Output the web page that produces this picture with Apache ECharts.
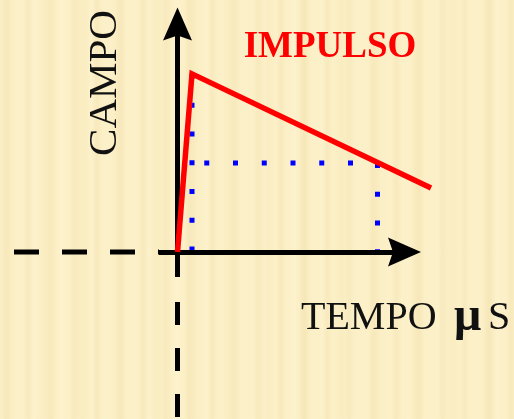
<!DOCTYPE html>
<html>
<head>
<meta charset="utf-8">
<script src="https://cdn.jsdelivr.net/npm/echarts@6/dist/echarts.min.js"></script>
<style>
  html, body { margin: 0; padding: 0; }
  body {
    width: 514px; height: 419px; overflow: hidden;
    background-color: #fcf0c8;
    background-image:
      repeating-linear-gradient(90deg, rgba(228,200,130,0) 0px, rgba(228,200,130,0.16) 5px, rgba(228,200,130,0) 11px, rgba(228,200,130,0) 23px),
      repeating-linear-gradient(90deg, rgba(236,214,150,0) 0px, rgba(236,214,150,0.14) 9px, rgba(236,214,150,0) 17px, rgba(236,214,150,0) 37px),
      repeating-linear-gradient(90deg, rgba(255,248,220,0) 0px, rgba(255,248,220,0.22) 4px, rgba(255,248,220,0) 8px, rgba(255,248,220,0) 29px);
  }
  #chart { width: 514px; height: 419px; }
</style>
</head>
<body>
<div id="chart"></div>
<script>
// Impulse waveform: field (CAMPO) against time (μs)
const pulse = [[0, 0], [1.45, 100], [25.35, 36]];      // rise to peak, then decay
const peakGuide = [[1.45, 100], [1.45, 0]];             // drop from the peak
const halfGuide = [[20, 50], [1.45, 50]];               // half-value level
const halfDrop = [[20, 50], [20, 0]];                   // half-value time

// Axis segments (time axis along field = 0, field axis along time = 0)
const xAxisSolid = [[-1.85, 0], [22.7, 0]];
const yAxisSolid = [[0, -14], [0, 128]];
const xAxisDashed = [[-16.35, 0], [-1.85, 0]];
const yAxisDashed = [[0, -28.03], [0, -93.7]];

// Visible window of the plane
const xRange = [-17.75, 33.65];
const yRange = [-93.7, 141.47];

const BLACK = '#000000';
const RED = '#ff0000';
const BLUE = '#0000ff';
const ARROW = 'path://M14.5,0 L29,33 L14.5,28 L0,33 Z';

const chart = echarts.init(document.getElementById('chart'), null, { renderer: 'canvas' });

function guide(data, offset) {
  return {
    type: 'line', data: data, symbol: 'none', silent: true, z: 4,
    lineStyle: { color: BLUE, width: 5, type: [5, 23.75], dashOffset: offset || 0, cap: 'butt' }
  };
}
function dashedAxis(data, dash) {
  return {
    type: 'line', data: data, symbol: 'none', silent: true, z: 2,
    lineStyle: { color: BLACK, width: 5, type: dash, cap: 'butt' }
  };
}
function solidAxis(seg) {
  return {
    type: 'line', data: [], symbol: 'none', silent: true, z: 3,
    markLine: {
      silent: true, animation: false,
      symbol: ['none', ARROW], symbolSize: [29, 33],
      label: { show: false },
      lineStyle: { color: BLACK, width: 5, type: 'solid', cap: 'butt' },
      emphasis: { disabled: true },
      data: [[{ coord: seg[0] }, { coord: seg[1] }]]
    }
  };
}

chart.setOption({
  animation: false,
  backgroundColor: 'transparent',
  grid: { left: 0, top: 0, right: 0, bottom: 0 },
  xAxis: {
    type: 'value', min: xRange[0], max: xRange[1], show: false,
    axisLine: { show: false }, axisTick: { show: false }, axisLabel: { show: false }, splitLine: { show: false }
  },
  yAxis: {
    type: 'value', min: yRange[0], max: yRange[1], show: false,
    axisLine: { show: false }, axisTick: { show: false }, axisLabel: { show: false }, splitLine: { show: false }
  },
  series: [
    dashedAxis(xAxisDashed, [25, 23]),
    dashedAxis(yAxisDashed, [23, 23]),
    solidAxis(xAxisSolid),
    solidAxis(yAxisSolid),
    guide(peakGuide),
    guide(halfGuide, 4.25),
    guide(halfDrop),
    {
      type: 'line', data: pulse, symbol: 'none', silent: true, z: 5,
      lineStyle: { color: RED, width: 5.5, join: 'miter', cap: 'butt' }
    }
  ],
  graphic: [
    {
      type: 'text', x: 330, y: 47, silent: true,
      style: { text: 'IMPULSO', fill: RED, align: 'center', verticalAlign: 'middle',
               font: 'bold 37px "Liberation Serif", serif' }
    },
    {
      type: 'text', x: 105, y: 83, rotation: Math.PI / 2, silent: true,
      style: { text: 'CAMPO', fill: '#111111', align: 'center', verticalAlign: 'middle',
               font: '41px "Liberation Serif", serif' }
    },
    {
      type: 'text', x: 301, y: 318, silent: true,
      style: { text: 'TEMPO', fill: '#111111', align: 'left', verticalAlign: 'middle',
               font: '40px "Liberation Serif", serif' }
    },
    {
      type: 'text', x: 454, y: 318, silent: true,
      style: { text: 'μ', fill: '#111111', align: 'left', verticalAlign: 'middle',
               font: 'bold 48px "Liberation Serif", serif' }
    },
    {
      type: 'text', x: 488, y: 318, silent: true,
      style: { text: 'S', fill: '#111111', align: 'left', verticalAlign: 'middle',
               font: '40px "Liberation Serif", serif' }
    }
  ]
});
</script>
</body>
</html>
